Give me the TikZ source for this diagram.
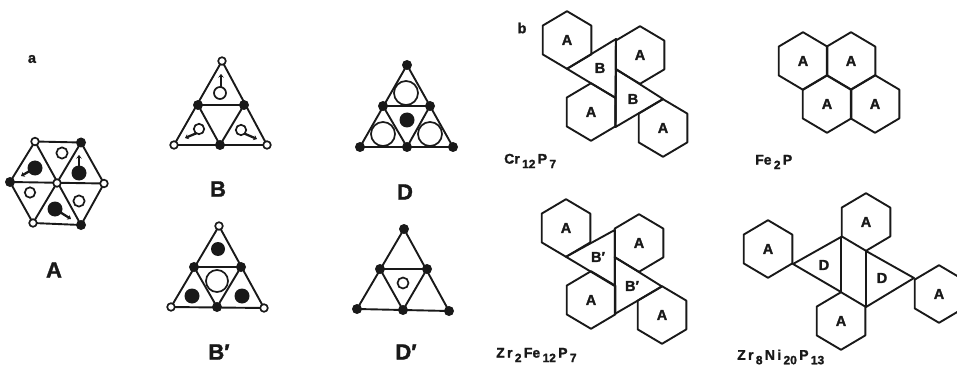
\documentclass[tikz,border=0pt]{standalone}
\usepackage{fontspec}
\setmainfont{Liberation Sans}[BoldFeatures={FakeBold=1.6}]
\usetikzlibrary{arrows.meta}
\tikzset{
  edge/.style={line width=1.9pt,line join=round,line cap=round,black!90},
  opn/.style={draw=black!90,line width=1.7pt,fill=white},
  blk/.style={fill=black!90},
  ptr/.style={line width=2.3pt,black!90,-{Stealth[length=3.5pt,width=5.5pt]}},
  big/.style={inner sep=0pt,font=\fontsize{22}{22}\selectfont\bfseries,text=black!90},
  hl/.style={inner sep=0pt,font=\fontsize{14.5}{15}\selectfont\bfseries,text=black!90},
  formula/.style={inner sep=0pt,anchor=west,font=\fontsize{14}{14}\selectfont\bfseries,text=black!90},
}
\newcommand{\lowr}[1]{\,\raisebox{-4.5pt}{\fontsize{12}{12}\selectfont #1}\,}
% name, centre x, centre y
\newcommand{\hexa}[3]{%
  \draw[edge] (#2,#3-28.8)--(#2+24.3,#3-14.4)--(#2+24.3,#3+14.4)--(#2,#3+28.8)--(#2-24.3,#3+14.4)--(#2-24.3,#3-14.4)--cycle;
  \node[hl] (#1) at (#2,#3) {A};}
% six vertices: top, mid left, mid right, bottom left, bottom mid, bottom right
\newcommand{\trifig}[6]{%
  \draw[edge] #1--#4--#6--cycle;
  \draw[edge] #2--#3--#5--cycle;}
\newcommand{\ov}[1]{\draw[opn] #1 circle[radius=3.8pt];}
\newcommand{\bv}[1]{\fill[blk] #1 circle[radius=5pt];}
\begin{document}
\begin{tikzpicture}[x=1pt,y=-1pt]
\useasboundingbox (0,0) rectangle (957,366);
\clip (0,0) rectangle (957,366);
% panel a: hexagon A
\draw[edge] (35,141.5)--(81,142.5)--(104,183.5)--(81,225)--(33,223)--(10,182)--cycle;
\draw[edge] (35,141.5)--(81,225);
\draw[edge] (81,142.5)--(33,223);
\draw[edge] (10,182)--(104,183.5);
\draw[ptr] (35,168)--(21,176);
\draw[ptr] (79,173)--(79,155);
\draw[ptr] (55,209)--(71,219);
\fill[blk] (35,168) circle[radius=7.5pt];
\fill[blk] (79,173) circle[radius=7.5pt];
\fill[blk] (55,209) circle[radius=7.5pt];
\draw[opn] (62,153) circle[radius=5.6pt];
\draw[opn] (30,192.5) circle[radius=5.2pt];
\draw[opn] (79,201) circle[radius=5.6pt];
\ov{(35,141.5)} \bv{(81,142.5)} \ov{(104,183.5)} \bv{(81,225)} \ov{(33,223)} \bv{(10,182)} \ov{(57,183)}
\node[big] (lA) at (54,270) {A};
% B
\trifig{(222,61)}{(198,105)}{(244,105)}{(174,145)}{(220,145)}{(267,145)}
\draw[ptr] (221,88)--(221,74);
\draw[ptr] (197,133)--(185,138);
\draw[ptr] (243,133)--(257,139);
\draw[opn] (220,93) circle[radius=6pt];
\draw[opn] (199,129) circle[radius=5.2pt];
\draw[opn] (241,130) circle[radius=5.2pt];
\ov{(222,61)} \bv{(198,105)} \bv{(244,105)} \ov{(174,145)} \bv{(220,145)} \ov{(267,145)}
\node[big] (lB) at (218,189) {B};
% B'
\trifig{(219,226)}{(194,267)}{(241,267)}{(171,307)}{(217,307)}{(264,308)}
\fill[blk] (218,249) circle[radius=7pt];
\fill[blk] (192,296) circle[radius=7.5pt];
\fill[blk] (242,296) circle[radius=7.5pt];
\draw[opn] (217,281) circle[radius=11pt];
\ov{(219,226)} \bv{(194,267)} \bv{(241,267)} \ov{(171,307)} \bv{(217,307)} \ov{(264,308)}
\node[big] (lBp) at (219,352) {B′};
% D
\trifig{(407,65)}{(383,106)}{(430,106)}{(360,147)}{(407,147)}{(453,147)}
\draw[opn] (406,93) circle[radius=12pt];
\draw[opn] (383,134) circle[radius=12pt];
\draw[opn] (430,134) circle[radius=12pt];
\fill[blk] (407,120) circle[radius=7.5pt];
\bv{(407,65)} \bv{(383,106)} \bv{(430,106)} \bv{(360,147)} \bv{(407,147)} \bv{(453,147)}
\node[big] (lD) at (405,192) {D};
% D'
\trifig{(404,229)}{(380,269)}{(427,269)}{(357,309)}{(403,310)}{(449,311)}
\draw[opn] (403,283) circle[radius=5.5pt];
\bv{(404,229)} \bv{(380,269)} \bv{(427,269)} \bv{(357,309)} \bv{(403,310)} \bv{(449,311)}
\node[big] (lDp) at (406,352) {D′};
\node[hl] (la) at (32,59) {a};
\node[hl] (lb) at (522,28) {b};
% Cr12P7
\hexa{c1}{567}{40} \hexa{c2}{640}{55} \hexa{c3}{591}{112} \hexa{c4}{663}{128}
\draw[edge] (567,68.8)--(616,39)--(615.5,98)--cycle;
\draw[edge] (616,69)--(663,99)--(615.5,127)--cycle;
\draw[edge] (616,39)--(615.5,127);
\node[hl] (c5) at (600,68) {B};
\node[hl] (c6) at (633,99) {B};
\node[formula] (c7) at (504,161) {Cr\lowr{12}P\lowr{7}};
% Fe2P
\hexa{f1}{803}{61} \hexa{f2}{851}{61} \hexa{f3}{827}{104} \hexa{f4}{875}{104}
\node[formula] (f5) at (755,162) {Fe\lowr{2}P};
% Zr2Fe12P7
\hexa{z1}{566}{228} \hexa{z2}{639}{243} \hexa{z3}{591}{300} \hexa{z4}{662}{315}
\draw[edge] (566,256.8)--(614.7,230)--(614.7,286)--cycle;
\draw[edge] (614.7,257)--(662,286.5)--(614.7,314)--cycle;
\draw[edge] (614.7,230)--(614.7,314);
\node[hl] (z5) at (598,257) {B′};
\node[hl] (z6) at (632,286) {B′};
\node[formula] (z7) at (496,355) {Z\,r\lowr{2}Fe\lowr{12}P\lowr{7}};
% Zr8Ni20P13
\hexa{n1}{768}{249} \hexa{n2}{866}{222} \hexa{n3}{841}{321} \hexa{n4}{939}{294}
\draw[edge] (793,264)--(841,237)--(841,292)--cycle;
\draw[edge] (866,251)--(914,278)--(866,307)--cycle;
\node[hl] (n5) at (824,265) {D};
\node[hl] (n6) at (882,278) {D};
\node[formula] (n7) at (737,357) {Z\,r\lowr{8}N\,i\lowr{20}P\lowr{13}};
\end{tikzpicture}
\end{document}
